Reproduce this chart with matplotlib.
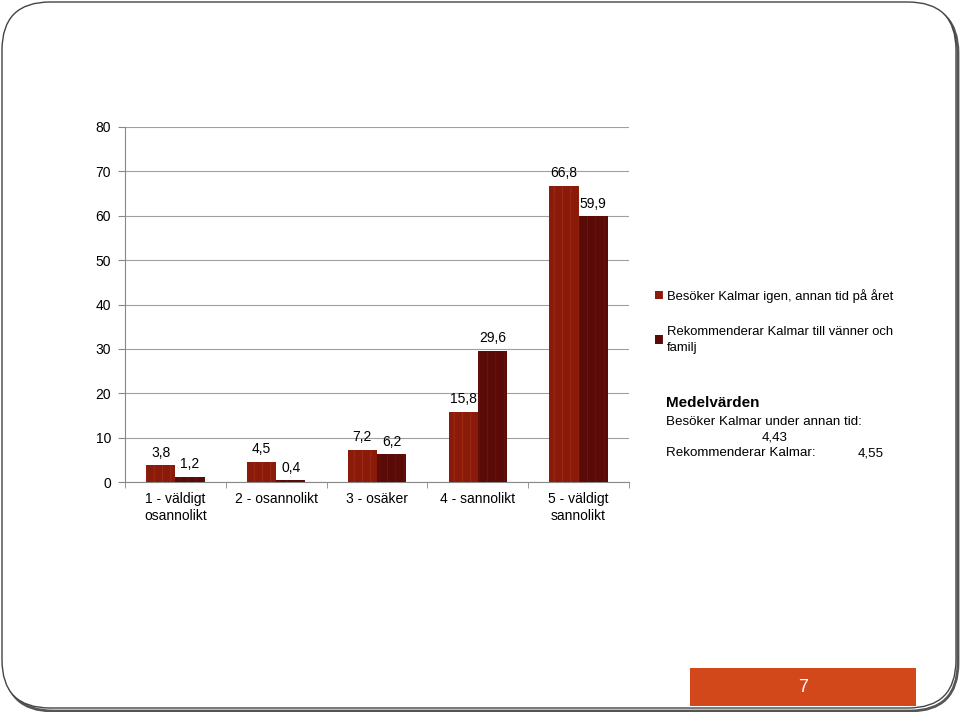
import matplotlib
matplotlib.use("Agg")
import matplotlib.pyplot as plt
from matplotlib.patches import FancyBboxPatch, Rectangle
import numpy as np

plt.rcParams['font.family'] = ['Liberation Sans', 'DejaVu Sans']
plt.rcParams['hatch.linewidth'] = 0.6

categories = ["1 - väldigt\nosannolikt", "2 - osannolikt", "3 - osäker", "4 - sannolikt", "5 - väldigt\nsannolikt"]
series_names = ["Besöker Kalmar igen, annan tid på året", "Rekommenderar Kalmar till vänner och\nfamilj"]
besoker = [3.8, 4.5, 7.2, 15.8, 66.8]
rekommenderar = [1.2, 0.4, 6.2, 29.6, 59.9]
yticks = [0, 10, 20, 30, 40, 50, 60, 70, 80]
colors = ["#8A1A0A", "#5A0A07"]
stripe_colors = ["#A32C18", "#701510"]

fig = plt.figure(figsize=(9.6, 7.12), dpi=100)

# slide border with shadow
shadow = FancyBboxPatch((5/960, 1 - 711/712), 953/960, 706/712,
                        boxstyle="round,pad=0,rounding_size=0.05",
                        transform=fig.transFigure, facecolor="none",
                        edgecolor="#555555", linewidth=2.0, mutation_aspect=960/712, zorder=-10)
fig.patches.append(shadow)
border = FancyBboxPatch((2/960, 1 - 708/712), 954/960, 706/712,
                        boxstyle="round,pad=0,rounding_size=0.05",
                        transform=fig.transFigure, facecolor="white",
                        edgecolor="#444444", linewidth=1.0, mutation_aspect=960/712, zorder=-9)
fig.patches.append(border)

ax = fig.add_axes([125/960, 1 - 482/712, (629 - 125)/960, (482 - 127)/712])
ax.set_facecolor("none")
x = np.arange(len(categories))
w = 0.29
b1 = ax.bar(x - w/2, besoker, width=w, color=colors[0], edgecolor=stripe_colors[0],
            linewidth=0, hatch="||", label=series_names[0], zorder=3)
b2 = ax.bar(x + w/2, rekommenderar, width=w, color=colors[1], edgecolor=stripe_colors[1],
            linewidth=0, hatch="||", label=series_names[1], zorder=3)

for bars, vals in ((b1, besoker), (b2, rekommenderar)):
    for r, v in zip(bars, vals):
        ax.annotate(f"{v:.1f}".replace(".", ","), (r.get_x() + r.get_width()/2, v),
                    xytext=(0, 4), textcoords="offset points", ha="center", va="bottom",
                    fontsize=10, color="black")

ax.set_xlim(-0.5, len(categories) - 0.5)
ax.set_ylim(0, 80)
ax.set_yticks(yticks)
ax.set_yticklabels([str(t) for t in yticks], fontsize=10)
ax.yaxis.grid(True, color="#A0A0A0", linewidth=0.8, zorder=0)
ax.set_axisbelow(True)
ax.set_xticks(x)
ax.set_xticklabels(categories, fontsize=10, linespacing=1.3)
ax.tick_params(axis="x", length=0, pad=7)
ax.set_xticks(np.arange(-0.5, len(categories), 1), minor=True)
ax.tick_params(axis="x", which="minor", length=4, color="#888888")
ax.tick_params(axis="y", length=5, color="#888888", pad=5)
for s in ("top", "right"):
    ax.spines[s].set_visible(False)
ax.spines["left"].set_color("#888888")
ax.spines["bottom"].set_color("#888888")

leg = fig.legend(handles=[b1, b2], labels=series_names, loc="upper left",
                 bbox_to_anchor=(643/960, 1 - 277/712), frameon=False, fontsize=9.4,
                 handlelength=0.6, handleheight=0.6, handletextpad=0.35,
                 labelspacing=1.75)
for t in leg.get_texts():
    t.set_linespacing(1.45)

fig.text(666/960, 1 - 403/712, "Medelvärden", fontsize=11, fontweight="bold", va="center", ha="left")
fig.text(666/960, 1 - 422/712, "Besöker Kalmar under annan tid:", fontsize=9.6, va="center", ha="left")
fig.text(775/960, 1 - 437/712, "4,43", fontsize=9.6, va="center", ha="center")
fig.text(666/960, 1 - 453/712, "Rekommenderar Kalmar:", fontsize=9.6, va="center", ha="left")
fig.text(871/960, 1 - 453/712, "4,55", fontsize=9.6, va="center", ha="center")

fig.patches.append(Rectangle((690/960, 1 - 706/712), (916 - 690)/960, (706 - 668)/712,
                             transform=fig.transFigure, facecolor="#D3481B", edgecolor="none"))
fig.text(803/960, 1 - 688/712, "7", fontsize=13, color="white", ha="center", va="center")

fig.savefig("out.png", dpi=100)
